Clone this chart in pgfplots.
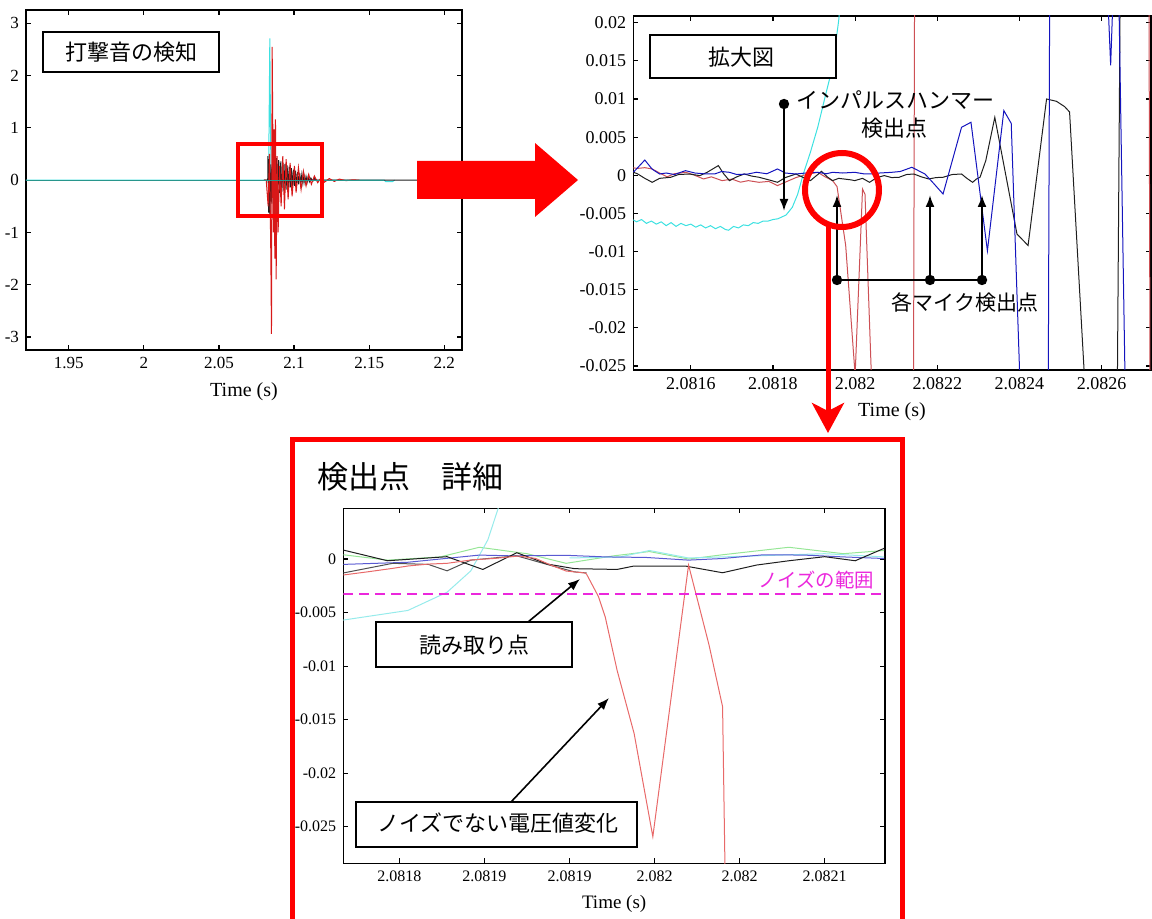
\documentclass[border=0pt]{standalone}
\usepackage{pgfplots}
\pgfplotsset{compat=1.18}
\usepackage{fontspec}
\setmainfont{Liberation Serif}
\newfontfamily\jp{Noto Sans CJK JP}
\usetikzlibrary{arrows.meta}
\definecolor{tlred}{RGB}{215,25,25}
\definecolor{trred}{RGB}{205,80,85}
\definecolor{bred}{RGB}{232,105,105}
\definecolor{mblue}{RGB}{20,20,190}
\definecolor{bblue}{RGB}{90,90,210}
\definecolor{mcyan}{RGB}{60,225,225}
\definecolor{bcyan}{RGB}{150,235,235}
\definecolor{teal2}{RGB}{40,150,140}
\definecolor{mblack}{RGB}{30,30,30}
\definecolor{bgray}{RGB}{80,80,80}
\definecolor{bgreen}{RGB}{150,230,150}
\definecolor{noisemag}{RGB}{235,40,220}
\pgfplotsset{
  mat/.style={scale only axis, tick align=inside, major tick length=2.5pt,
    axis line style={line width=0.8pt},
    every tick/.append style={line width=0.6pt, black},
    scaled x ticks=false, scaled y ticks=false,
    /pgf/number format/assume math mode=true, xlabel={Time (s)},
    no markers, every axis plot/.append style={line width=0.5pt}}
}
\begin{document}
\begin{tikzpicture}
\useasboundingbox (0,0) rectangle (576pt,-459.5pt);
% ---------------- top left -----------------
\begin{axis}[mat, at={(13pt,-175pt)}, anchor=south west, width=218pt, height=170pt,
  xmin=1.9216, xmax=2.2118, ymin=-3.25, ymax=3.255,
  xtick={1.95,2,2.05,2.1,2.15,2.2}, xticklabels={1.95,2,2.05,2.1,2.15,2.2},
  ytick={-3,-2,-1,0,1,2,3}, yticklabels={-3,-2,-1,0,1,2,3},
  tick label style={font=\fontsize{8.5}{10}\selectfont},
  xlabel style={font=\fontsize{10}{12}\selectfont}]
\addplot[mcyan] coordinates {(1.92,0) (2.0830,0) (2.08322,0.5) (2.08389,2.71) (2.08433,1.03) (2.08477,-0.1) (2.0852,0.1) (2.0859,-0.12) (2.0866,0.08) (2.0875,-0.08) (2.0886,0.06) (2.0900,-0.05) (2.0915,0.04) (2.093,-0.03) (2.095,0.02) (2.1,0) (2.16,0) (2.1611,-0.03) (2.1655,-0.03) (2.167,0)};
\addplot[mblue] coordinates {(2.0837,0) (2.08477,0.15) (2.08588,-0.18) (2.08721,0.12) (2.08853,-0.12) (2.08986,0.1) (2.09141,-0.1) (2.09296,0.08) (2.09473,-0.07) (2.09694,0.05) (2.09916,-0.04) (2.10137,0.03) (2.10469,-0.02) (2.10801,0.01) (2.115,0)};
\addplot[mblack] coordinates {(2.08,0) (2.0825,0) (2.0826,0.46) (2.0831,-0.62) (2.0835,0.40) (2.0840,-0.69) (2.0846,0.30) (2.0852,-0.45) (2.0858,0.45) (2.0864,-0.40) (2.0870,0.48) (2.0877,-0.35) (2.0884,0.42) (2.0891,-0.30) (2.0898,0.38) (2.0905,-0.25) (2.0912,0.36) (2.0919,-0.22) (2.0926,0.33) (2.0933,-0.2) (2.0940,0.31) (2.0947,-0.18) (2.0954,0.28) (2.0961,-0.16) (2.0968,0.26) (2.0975,-0.14) (2.0982,0.23) (2.0989,-0.12) (2.0996,0.2) (2.1003,-0.11) (2.1010,0.18) (2.1017,-0.1) (2.1024,0.15) (2.1031,-0.08) (2.1038,0.13) (2.1045,-0.07) (2.1052,0.11) (2.1059,-0.06) (2.1066,0.09) (2.1073,-0.05) (2.1080,0.07) (2.1087,-0.04) (2.1094,0.06) (2.1102,-0.03) (2.1112,0.04) (2.1125,-0.02) (2.1138,0.03) (2.115,0) (2.182,0)};
\addplot[tlred] coordinates {(2.08,0) (2.0815,0) (2.08278,-0.5) (2.08367,0.5) (2.08455,-1.4) (2.08499,-2.94) (2.08544,2.55) (2.08588,0.9) (2.08632,-1.0) (2.08676,0.97) (2.08721,-1.5) (2.08765,1.16) (2.08809,-1.9) (2.08876,0.46) (2.08942,-1.0) (2.09031,0.27) (2.09141,-0.5) (2.09252,0.46) (2.09362,-0.56) (2.09473,0.4) (2.09606,-0.37) (2.09739,0.33) (2.09871,-0.31) (2.10026,0.27) (2.10137,-0.24) (2.10292,0.24) (2.10469,-0.18) (2.10624,0.17) (2.10801,-0.11) (2.10978,0.11) (2.11155,-0.08) (2.11354,0.08) (2.11575,-0.05) (2.11797,0.045) (2.12018,-0.04) (2.1235,0.03) (2.12682,-0.025) (2.13014,0.02) (2.13457,-0.01) (2.139,0.005) (2.14342,0)};
\addplot[teal2] coordinates {(1.92,0) (2.16,0)};
\end{axis}
% ---------------- top right -----------------
\begin{axis}[mat, at={(316.65pt,-185pt)}, anchor=south west, width=258.7pt, height=177pt,
  xmin=60, xmax=1319.5, ymin=-0.02552, ymax=0.02088,
  xtick={200,400,600,800,1000,1200}, xticklabels={2.0816,2.0818,2.082,2.0822,2.0824,2.0826},
  ytick={-0.025,-0.02,-0.015,-0.01,-0.005,0,0.005,0.01,0.015,0.02},
  yticklabels={-0.025,-0.02,-0.015,-0.01,-0.005,0,0.005,0.01,0.015,0.02},
  tick label style={font=\fontsize{9}{11}\selectfont},
  xlabel style={font=\fontsize{10}{12}\selectfont}]
\addplot[mcyan] coordinates {(55,-0.0057) (68,-0.0061) (80,-0.0058) (92,-0.0063) (104,-0.0060) (116,-0.0064) (128,-0.0061) (140,-0.0066) (152,-0.0062) (164,-0.0067) (176,-0.0063) (188,-0.0066) (200,-0.0064) (212,-0.0068) (224,-0.0065) (236,-0.0069) (248,-0.0066) (260,-0.0070) (272,-0.0067) (284,-0.0071) (292,-0.0072) (304,-0.0067) (316,-0.0069) (328,-0.0065) (340,-0.0066) (352,-0.0062) (364,-0.0063) (376,-0.0060) (388,-0.0060) (400,-0.0058) (412,-0.0057) (420,-0.0055) (432,-0.0052) (447,-0.0042) (460,-0.0025) (474,0.0002) (491,0.0030) (509,0.0063) (527,0.0103) (545,0.0142) (560,0.0203) (570,0.026)};
\addplot[trred] coordinates {(50,0.00105) (70,0.0009) (88,0.0010) (106,0.00083) (124,0.0003) (142,-0.0002) (160,0.0002) (187,0.0004) (205,0.0001) (231,-0.00048) (250,-0.0002) (276,-0.0007) (300,-0.0005) (321,-0.0009) (340,-0.0007) (366,-0.00092) (390,-0.0008) (411,-0.00135) (430,-0.0009) (456,-0.0003) (474,0.0000) (491,0.0002) (509,0.00039) (527,-0.0002) (545,-0.0007) (556,-0.00149) (577,-0.0092) (600,-0.0262) (618,-0.0018) (624,-0.0025) (642,-0.03) (742,-0.03) (745,0.03) (1315,0.03) (1318,-0.03)};
\addplot[mblack] coordinates {(50,0.00061) (70,0.0002) (88,-0.0004) (106,-0.00092) (124,-0.0004) (151,-0.00026) (170,0.0001) (196,0.00017) (222,-0.00004) (240,0.0004) (267,0.00127) (280,0.0002) (294,-0.0007) (312,-0.0002) (330,0.00017) (348,-0.0001) (366,-0.00026) (390,-0.0006) (411,-0.00092) (430,-0.0003) (456,0.00017) (474,-0.0003) (491,-0.0007) (509,0.0001) (518,0.00052) (532,-0.0002) (545,-0.0007) (560,-0.0004) (572,-0.00048) (590,-0.0006) (599,-0.0007) (618,-0.0004) (635,-0.00092) (653,-0.0003) (671,-0.00004) (689,-0.0003) (707,-0.00026) (725,0.0001) (743,0.00017) (761,-0.0002) (779,-0.00048) (797,-0.0003) (814,-0.00026) (836,0.0001) (859,0.00017) (872,-0.0004) (886,-0.00092) (895,-0.0005) (904,-0.00026) (918,0.00192) (940,0.0076) (994,-0.0077) (1021,-0.0092) (1066,0.01) (1090,0.0097) (1110,0.009) (1122,0.0083) (1158,-0.0262) (1164,-0.03) (1238,-0.03) (1246,0.03)};
\addplot[mblue] coordinates {(50,0.00017) (62,0.0005) (88,0.002) (106,0.0008) (124,0.00017) (140,0.0003) (160,0.0001) (187,0.00061) (210,0.0003) (231,0.0002) (258,0.00017) (275,0.0005) (294,0.00039) (312,0.0001) (339,0.00017) (360,0.0004) (385,0.0002) (411,0.00083) (430,0.0003) (456,0.00017) (480,0.0003) (509,0.00039) (530,0.0002) (545,0.00039) (570,0.0003) (599,0.00039) (620,0.0002) (635,0.00017) (660,0.0003) (689,0.00039) (710,0.0005) (738,0.00105) (770,0.00017) (790,-0.001) (814,-0.00245) (859,0.00629) (882,0.00695) (922,-0.0099) (962,0.00848) (980,0.0068) (1003,-0.03) (1070,-0.03) (1074,0.03) (1210,0.03) (1222,0.0144) (1232,0.03) (1240,0.03) (1258,-0.03)};
\end{axis}
% ---------------- bottom -----------------
\begin{axis}[mat, at={(171.65pt,-431.65pt)}, anchor=south west, width=270.85pt, height=177.5pt,
  xmin=-33, xmax=285.5, ymin=-0.02842, ymax=0.00474,
  xtick={0,50,100,150,200,250}, xticklabels={2.0818,2.0819,2.0819,2.082,2.082,2.0821},
  ytick={-0.025,-0.02,-0.015,-0.01,-0.005,0},
  yticklabels={-0.025,-0.02,-0.015,-0.01,-0.005,0},
  tick label style={font=\fontsize{8}{10}\selectfont},
  xlabel style={font=\fontsize{9.5}{11}\selectfont}]
\addplot[bgreen] coordinates {(-33,0.0004) (-7,-0.0001) (24,0.0002) (47,0.0011) (75,0.0005) (98,-0.0004) (126,0.0003) (147,0.0007) (170,0.0) (190,0.0004) (229,0.0011) (261,0.0005) (285,0.0008)};
\addplot[bcyan] coordinates {(100,0.0001) (130,0.0002) (147,0.0008) (170,0.0001) (210,0.0003) (250,0.0005) (285,0.0002)};
\addplot[bcyan] coordinates {(-33,-0.0057) (5,-0.0048) (28,-0.0031) (42,-0.0011) (52,0.0018) (58,0.0047) (62,0.007)};
\addplot[bblue] coordinates {(-33,-0.0005) (5,-0.0003) (47,0.00037) (66,0.0003) (98,0.00035) (121,0.0002) (145,0.00015) (170,-0.0001) (190,0.00005) (214,0.0004) (238,0.00037) (261,0.0002) (285,0.00005)};
\addplot[bgray] coordinates {(-33,-0.0013) (-4,-0.0004) (17,-0.0005) (28,-0.0011) (42,-0.0001) (69,0.0003) (89,-0.0006) (103,-0.0012) (110,-0.0013)};
\addplot[mblack] coordinates {(-33,0.00084) (-7,-0.00016) (28,0.00022) (49,-0.00097) (69,0.00059) (87,-0.00047) (103,-0.0009) (128,-0.00097) (138,-0.00065) (168,-0.00065) (190,-0.00128) (210,-0.00056) (229,-0.00016) (250,0.00022) (268,-0.00016) (285,0.001)};
\addplot[bred] coordinates {(-33,-0.00149) (-18,-0.00118) (-4,-0.00087) (5,-0.00065) (17,-0.00047) (28,-0.0004) (42,-0.00009) (56,0.00006) (70,0.00028) (80,0.00006) (89,-0.00056) (98,-0.00112) (109,-0.0013) (110,-0.0014) (117,-0.0035) (121,-0.0054) (128,-0.0104) (138,-0.0163) (149,-0.02593) (170,-0.00056) (182,-0.008) (190,-0.01379) (192,-0.035)};
\addplot[draw=noisemag, line width=0.8pt, dash pattern=on 5pt off 3pt] coordinates {(-33,-0.00324) (285.5,-0.00324)};
\end{axis}
% ---------------- annotations -----------------
\begin{scope}[x=0.5pt,y=-0.5pt]
% top left
\draw[line width=1pt, fill=white] (43,32) rectangle (219,72);
\node[font=\jp\fontsize{11}{13}\selectfont] at (131,52) {打撃音の検知};
\draw[red, line width=2pt] (238,144) rectangle (322,216);
\fill[red] (417,161) -- (535,161) -- (535,143) -- (578,180) -- (535,217) -- (535,199) -- (417,199) -- cycle;
% top right
\draw[line width=1pt, fill=white] (650,35) rectangle (836,78);
\node[font=\jp\fontsize{11}{13}\selectfont] at (741,57) {拡大図};
\fill (784,104) circle (2.6pt);
\draw[line width=1pt, -{Latex[length=6pt,width=4.5pt]}] (784,104) -- (784,211);
\node[font=\jp\fontsize{11}{13}\selectfont, anchor=west, inner sep=0pt] at (796,100) {インパルスハンマー};
\node[font=\jp\fontsize{11}{13}\selectfont] at (894,128) {検出点};
\draw[line width=1pt] (837,280) -- (982,280);
\foreach \xx in {837,930,982} {
  \fill (\xx,280) circle (2.6pt);
  \draw[line width=1pt, -{Latex[length=6pt,width=4.5pt]}] (\xx,280) -- (\xx,195);
}
\node[font=\jp\fontsize{10.5}{13}\selectfont] at (965,302) {各マイク検出点};
\draw[red, line width=3pt] (842,190) circle (18.5pt);
\draw[red, line width=2.5pt, -{Stealth[length=15pt,width=16pt,inset=4pt]}] (828,227) -- (828,433);
% bottom
\draw[red, line width=2.5pt] (292,930) -- (292,439.5) -- (902.5,439.5) -- (902.5,930);
\node[font=\jp\fontsize{15.5}{18}\selectfont, anchor=west, inner sep=0pt] at (317,477) {検出点　詳細};
\draw[line width=1pt, fill=white] (376,622) rectangle (572,667);
\node[font=\jp\fontsize{11}{13}\selectfont] at (474,645) {読み取り点};
\draw[line width=1pt, fill=white] (356,802) rectangle (637,847);
\node[font=\jp\fontsize{11}{13}\selectfont] at (498,823) {ノイズでない電圧値変化};
\node[font=\jp\fontsize{9.7}{12}\selectfont, text=noisemag] at (816,580) {ノイズの範囲};
\draw[line width=0.8pt, -{Latex[length=6pt,width=4.5pt]}] (528,622) -- (580,579);
\draw[line width=0.8pt, -{Latex[length=6pt,width=4.5pt]}] (511,802) -- (609,698);
\end{scope}
\end{tikzpicture}
\end{document}
